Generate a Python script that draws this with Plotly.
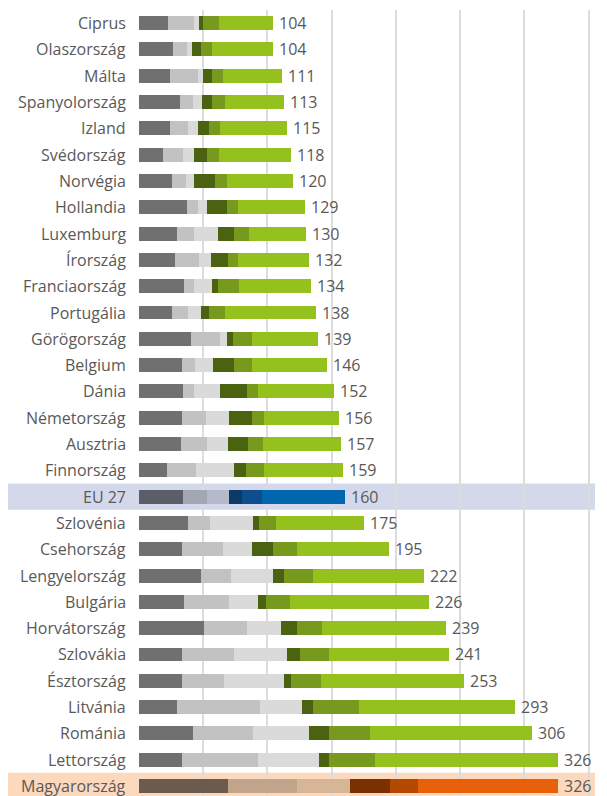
import plotly.graph_objects as go

countries = ["Ciprus", "Olaszország", "Málta", "Spanyolország", "Izland", "Svédország",
             "Norvégia", "Hollandia", "Luxemburg", "Írország", "Franciaország", "Portugália",
             "Görögország", "Belgium", "Dánia", "Németország", "Ausztria", "Finnország",
             "EU 27", "Szlovénia", "Csehország", "Lengyelország", "Bulgária", "Horvátország",
             "Szlovákia", "Észtország", "Litvánia", "Románia", "Lettország", "Magyarország"]
totals = [104, 104, 111, 113, 115, 118, 120, 129, 130, 132, 134, 138, 139, 146, 152, 156,
          157, 159, 160, 175, 195, 222, 226, 239, 241, 253, 293, 306, 326, 326]
seg1 = [22.8, 26.7, 24.1, 31.9, 24.1, 18.9, 25.5, 37.1, 29.4, 28.0, 35.0, 25.5, 40.5, 33.3,
        34.0, 33.3, 32.5, 21.6, 34.5, 37.9, 33.3, 48.1, 35.3, 50.6, 33.3, 33.7, 29.4, 42.3,
        33.3, 69.1]
seg2 = [20.3, 10.4, 22.1, 10.4, 14.3, 15.6, 11.1, 8.6, 13.7, 18.7, 8.1, 12.9, 22.6, 10.3,
        9.1, 18.6, 20.7, 22.8, 18.7, 17.4, 32.4, 23.6, 35.0, 33.7, 40.9, 32.7, 64.8, 46.7,
        59.6, 54.0]
seg3 = [3.4, 4.4, 3.9, 7.0, 7.3, 8.6, 6.5, 7.5, 18.7, 9.1, 13.8, 9.7, 5.2, 14.3, 20.0, 18.4,
        15.9, 29.8, 17.1, 33.7, 22.5, 32.4, 22.6, 26.1, 41.3, 46.5, 32.5, 43.6, 47.5, 41.0]
seg4 = [3.6, 6.6, 6.5, 7.3, 8.8, 9.6, 16.1, 15.1, 12.4, 13.3, 4.9, 6.4, 4.7, 16.3, 21.2, 17.5,
        16.0, 8.9, 10.1, 4.7, 16.4, 8.8, 6.0, 12.4, 9.9, 5.2, 8.6, 15.4, 7.6, 31.4]
seg5 = [12.4, 8.5, 9.1, 10.4, 8.6, 9.8, 9.6, 8.6, 11.5, 7.8, 16.3, 12.5, 14.8, 13.6, 8.6, 9.8,
        11.2, 14.5, 15.2, 12.8, 18.2, 22.4, 18.7, 20.0, 22.6, 23.4, 36.0, 31.9, 35.8, 22.0]
seg6 = [t - a - b - c - d - e for t, a, b, c, d, e in zip(totals, seg1, seg2, seg3, seg4, seg5)]
x_ticks = [0, 50, 100, 150, 200, 250, 300, 350]

base_colors = ["#707070", "#c2c2c2", "#dadada", "#4b6311", "#77991d", "#95c11f"]
eu_colors = ["#5b5e66", "#a2a7b3", "#b5bacb", "#0c3a66", "#0c4f8c", "#0066b0"]
hu_colors = ["#6b5b4e", "#c1a58b", "#d7b597", "#7a3000", "#b64900", "#e8610a"]

eu_i = countries.index("EU 27")
hu_i = countries.index("Magyarország")

fig = go.Figure()
for k, seg in enumerate([seg1, seg2, seg3, seg4, seg5, seg6]):
    cols = [base_colors[k]] * len(countries)
    cols[eu_i] = eu_colors[k]
    cols[hu_i] = hu_colors[k]
    fig.add_trace(go.Bar(
        y=countries, x=seg, orientation="h",
        marker=dict(color=cols, line=dict(width=0)),
        hoverinfo="skip", showlegend=False))

font_col = "#595959"
annotations = []
for c, t in zip(countries, totals):
    annotations.append(dict(x=0, y=c, xref="x", yref="y", text=c, showarrow=False,
                            xanchor="right", xshift=-11,
                            font=dict(family="Open Sans", size=16, color=font_col)))
    annotations.append(dict(x=t, y=c, xref="x", yref="y", text=str(t), showarrow=False,
                            xanchor="left", xshift=4,
                            font=dict(family="Open Sans", size=16, color=font_col)))

shapes = []
for idx, col in [(eu_i, "#d3d9ea"), (hu_i, "#fcd8bc")]:
    shapes.append(dict(type="rect", xref="paper", yref="y", x0=-0.3, x1=1.0,
                       y0=idx - 0.5, y1=idx + 0.5, fillcolor=col, line=dict(width=0),
                       layer="below"))

fig.update_layout(
    width=607, height=788,
    margin=dict(l=131, r=20, t=2, b=0),
    barmode="stack", bargap=0.47,
    paper_bgcolor="white", plot_bgcolor="white",
    xaxis=dict(range=[0, 355], tickvals=x_ticks, showticklabels=False,
               showgrid=True, gridcolor="#dcdcdc", gridwidth=2, zeroline=False),
    yaxis=dict(categoryorder="array", categoryarray=countries,
               range=[29.38, -0.5], showticklabels=False, showgrid=False, zeroline=False),
    annotations=annotations, shapes=shapes,
)

fig.write_html("out.html")
